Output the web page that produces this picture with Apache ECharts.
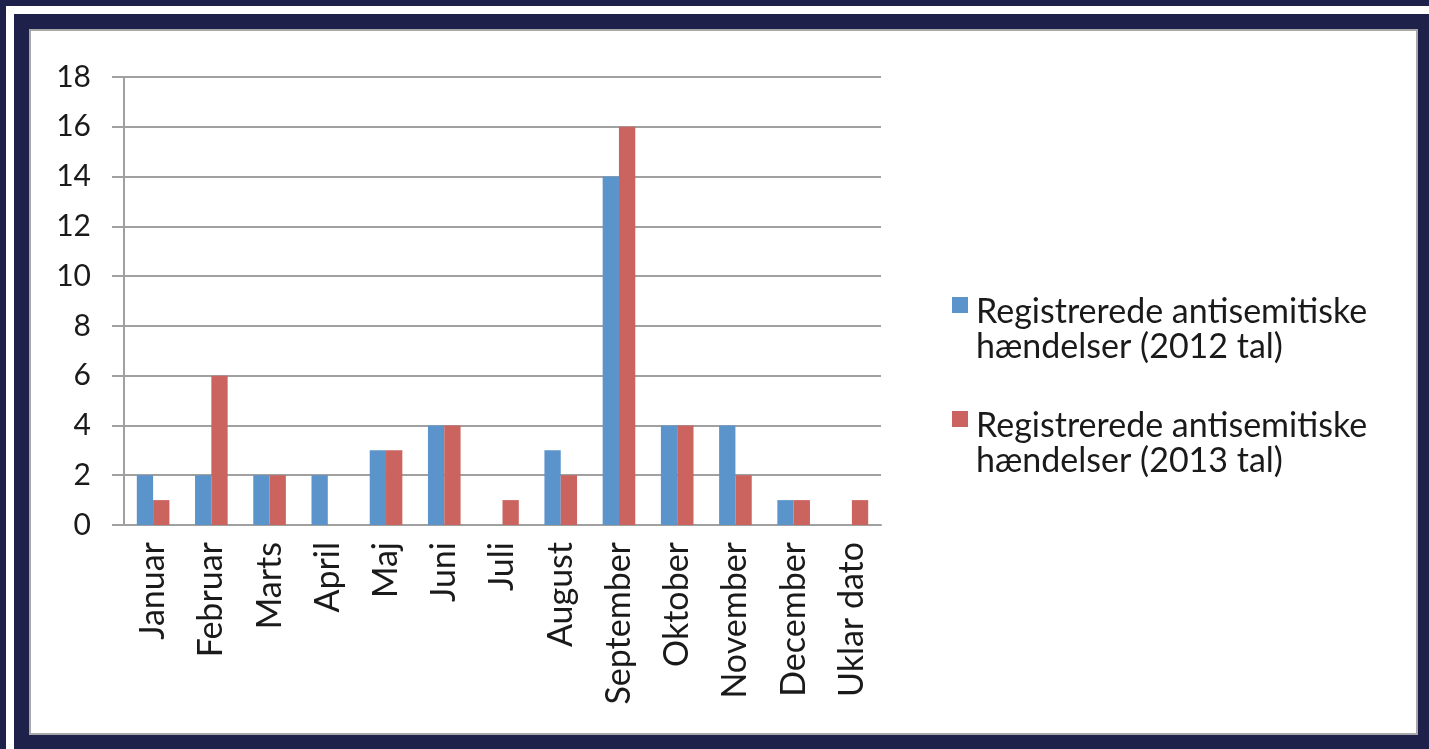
<!DOCTYPE html>
<html>
<head>
<meta charset="utf-8">
<script src="https://cdn.jsdelivr.net/npm/echarts@6/dist/echarts.min.js"></script>
<style>
html,body{margin:0;padding:0;background:#1e2149;}
#c{width:1429px;height:749px;}
</style>
</head>
<body>
<div id="c"></div>
<script>
var categories = ['Januar','Februar','Marts','April','Maj','Juni','Juli','August','September','Oktober','November','December','Uklar dato'];
var values2012 = [2,2,2,2,3,4,0,3,14,4,4,1,0];
var values2013 = [1,6,2,0,3,4,1,2,16,4,2,1,1];
var seriesNames = ['Registrerede antisemitiske\nhændelser (2012 tal)','Registrerede antisemitiske\nhændelser (2013 tal)'];
var yTicks = {min:0, max:18, interval:2};

var FONT = 'Lato';
var chart = echarts.init(document.getElementById('c'));
var iconPath = 'path://M0,0L16,0L16,16L0,16Z M16,66';
chart.setOption({
  backgroundColor:'#1e2149',
  animation:false,
  textStyle:{fontFamily:FONT},
  graphic:[
    {type:'rect',z:-10,shape:{x:10,y:10,width:1500,height:800},style:{fill:'none',stroke:'#ffffff',lineWidth:8}},
    {type:'rect',z:-9,shape:{x:30,y:30,width:1387,height:704},style:{fill:'#ffffff',stroke:'#a8a8a8',lineWidth:2}}
  ],
  grid:{left:124,right:548,top:77,bottom:224,containLabel:false},
  legend:{
    orient:'vertical',left:947,top:290,itemGap:44,
    itemWidth:16,itemHeight:66,icon:iconPath,itemStyle:{borderWidth:0},
    textStyle:{fontFamily:FONT,fontSize:34,lineHeight:35,color:'#1a1a1a',padding:[0,0,0,3]},
    data:seriesNames
  },
  xAxis:{
    type:'category',data:categories,
    axisLine:{lineStyle:{color:'#a0a0a0',width:2}},
    axisTick:{length:12,lineStyle:{color:'#a0a0a0',width:2}},
    axisLabel:{rotate:90,margin:17,fontFamily:FONT,fontSize:34,color:'#1a1a1a',interval:0}
  },
  yAxis:{
    type:'value',min:yTicks.min,max:yTicks.max,interval:yTicks.interval,
    axisLine:{show:true,lineStyle:{color:'#a0a0a0',width:2}},
    axisTick:{show:true,length:12,lineStyle:{color:'#a0a0a0',width:2}},
    splitLine:{lineStyle:{color:'#a0a0a0',width:2}},
    axisLabel:{margin:33,fontFamily:FONT,fontSize:30,color:'#1a1a1a'}
  },
  series:[
    {name:seriesNames[0],type:'bar',data:values2012,barGap:'0%',barCategoryGap:'44%',itemStyle:{color:'#5b93cb'}},
    {name:seriesNames[1],type:'bar',data:values2013,barGap:'0%',barCategoryGap:'44%',itemStyle:{color:'#cb635e'}}
  ]
});
</script>
</body>
</html>
